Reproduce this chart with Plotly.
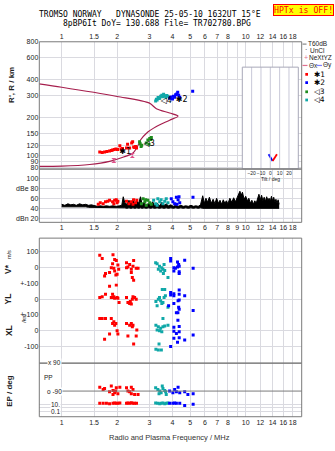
import numpy as np
import plotly.graph_objects as go

W, H = 335, 451
def px(x): return x / W
def py(y): return 1 - y / H

# ---------------- data ----------------
freq_ticks = [1, 1.5, 2, 3, 4, 5, 6, 7, 8, 9, 10, 12, 14, 16, 18]
top_labels = ["1", "1.5", "2", "3", "4", "5", "6", "7", "8", "", "10", "12", "14", "16", "18"]
mid_labels = ["1", "1.5", "2", "3", "4", "5", "6", "7", "8", "9", "10", "12", "14", "16", "18"]
height_ticks = [80, 90, 100, 120, 150, 200, 300, 400, 600, 800]

# model virtual-height curve (R', R)
curve_f = [0.75, 1.0, 2.0, 3.0, 3.27, 3.86, 4.29, 3.86, 3.27, 2.88, 2.68, 2.58, 2.44, 2.15, 1.82, 1.42, 1.0, 0.75]
curve_h = [371, 349, 295, 261, 236, 218, 206, 191, 170, 150, 133, 118, 105, 97, 90, 85, 82.4, 82]

# echoes (height panel)
red_f = [1.61, 1.66, 1.71, 1.76, 1.82, 1.86, 1.89, 1.93, 1.97, 2.01, 2.07, 2.10, 2.14, 2.25, 2.28, 2.34, 2.40, 2.43, 2.46, 2.49, 2.52, 2.55]
red_h = [107, 106, 107, 108, 109, 110, 111, 112, 113, 112, 120, 113, 114, 115, 123, 115, 126, 129, 117, 116, 118, 115]
green_f = [2.65, 2.67, 2.70, 2.72, 2.88, 2.94, 2.98, 3.01, 3.05, 3.07]
green_h = [129, 124, 118, 121, 126, 133, 123, 137, 134, 139]
teal_f = [3.24, 3.27, 3.30, 3.34, 3.38, 3.41, 3.45, 3.50, 3.54, 3.58, 3.63, 3.68, 3.72, 3.77]
teal_h = [272, 280, 276, 290, 284, 286, 296, 302, 293, 307, 298, 291, 300, 296]
blue_f = [3.86, 3.92, 4.00, 4.05, 4.11, 4.16, 4.22, 4.27, 4.32, 4.38, 5.15]
blue_h = [286, 292, 282, 296, 291, 305, 309, 318, 302, 291, 325]
pink_f = [1.92, 2.42]
pink_h = [91.4, 100]
lab_f = [2.21, 2.99, 3.70, 4.49]
lab_h = [106, 123, 271, 279]
lab_t = ["✱1", "◁3", "◁4", "✱2"]

# tilt inset
tilt_x_deg = [-1.8, 2.5]
tilt_x_h = [102, 90]
tilt_y_deg = [2.5, 7.1]
tilt_y_h = [90, 102]

# noise (dB panel)
noise_f = [1.00, 1.04, 1.08, 1.12, 1.16, 1.20, 1.25, 1.30, 1.35, 1.40, 1.45, 1.50, 1.56, 1.62, 1.68, 1.75,
           1.82, 1.90, 1.98, 2.06, 2.12, 2.16, 2.20, 2.26, 2.32, 2.38, 2.44, 2.50, 2.56, 2.62, 2.68, 2.74,
           2.80, 2.88, 2.96, 3.04, 3.12, 3.20, 3.30, 3.40, 3.50, 3.60, 3.70, 3.80, 3.92, 4.04, 4.16, 4.30,
           4.44, 4.58, 4.72, 4.88, 5.04, 5.20, 5.36, 5.52, 5.68, 5.84, 5.96, 6.08, 6.20, 6.35, 6.50, 6.65,
           6.80, 6.95, 7.10, 7.25, 7.40, 7.55, 7.70, 7.85, 8.00, 8.20, 8.40, 8.60, 8.80, 9.00, 9.15, 9.30,
           9.45, 9.60, 9.80, 10.0, 10.2, 10.4, 10.6, 10.8, 11.0, 11.2, 11.4, 11.6, 11.8, 12.0, 12.2, 12.4,
           12.6, 12.8, 13.0, 13.2, 13.4, 13.6, 13.8, 14.0, 14.2, 14.4, 14.6, 14.8, 15.0, 15.2]
noise_hi = [48, 46, 49, 47, 48, 46, 49, 47, 48, 46, 47, 45, 44, 45, 44, 45,
            44, 45, 44, 45, 46, 63, 52, 48, 56, 50, 58, 48, 55, 50, 63, 47,
            52, 46, 50, 46, 53, 46, 50, 45, 52, 46, 49, 45, 47, 44, 46, 44,
            46, 44, 45, 44, 46, 44, 45, 44, 47, 65, 50, 60, 52, 62, 50, 58,
            49, 60, 50, 56, 48, 57, 50, 55, 49, 60, 52, 61, 53, 62, 70, 74,
            66, 72, 58, 64, 55, 60, 50, 56, 48, 55, 50, 62, 68, 57, 66, 55,
            62, 54, 63, 56, 60, 54, 64, 55, 62, 52, 58, 50, 57, 48]
noise_lo = [43, 43, 44, 43, 43, 44, 43, 43, 43, 42, 42, 42, 41, 41, 41, 41,
            41, 41, 41, 41, 41, 41, 41, 40, 41, 40, 41, 40, 41, 40, 41, 40,
            41, 40, 41, 40, 41, 40, 41, 40, 41, 40, 41, 40, 41, 40, 41, 40,
            41, 40, 41, 40, 41, 40, 41, 40, 41, 40, 40, 40, 39, 40, 39, 40,
            39, 40, 39, 40, 39, 40, 39, 40, 39, 40, 39, 40, 39, 40, 39, 40,
            39, 40, 39, 40, 39, 40, 39, 40, 39, 40, 39, 40, 39, 40, 39, 40,
            39, 40, 39, 40, 39, 40, 39, 40, 39, 40, 39, 40, 39, 40]
db_red_f = [1.58, 1.62, 1.68, 1.73, 1.78, 1.82, 1.89, 1.94, 1.98, 2.02, 1.92, 2.00, 2.25, 2.32, 2.39, 2.46, 2.52, 2.56, 2.44]
db_red_v = [48, 51, 49, 53, 54, 56, 53, 56, 57, 54, 49, 51, 54, 49, 53, 57, 51, 56, 48]
db_green_f = [2.77, 2.83, 2.88, 2.94, 3.01, 3.07, 2.71, 2.86]
db_green_v = [59, 53, 46, 56, 51, 48, 49, 57]
db_teal_f = [3.16, 3.24, 3.33, 3.41, 3.47, 3.55, 3.63, 3.70, 3.78, 3.30]
db_teal_v = [56, 49, 59, 53, 57, 49, 54, 59, 51, 46]
db_blue_f = [3.94, 4.02, 4.11, 4.20, 4.29, 4.34, 4.23, 5.17, 4.38]
db_blue_v = [59, 53, 49, 62, 57, 63, 48, 62, 51]

# velocity panel (V*, YL, XL)
vs_red_f = [1.61, 1.66, 1.71, 1.73, 1.82, 1.86, 1.89, 1.90, 1.92, 1.94, 1.94, 1.97, 1.98, 2.00, 2.02, 2.04,
            2.25, 2.25, 2.29, 2.34, 2.39, 2.39, 2.42, 2.44, 2.46, 2.46, 2.54, 2.60]
vs_red_v = [79, 58, -52, -37, -31, 0, 25, 83, -4, 52, -21, -46, 46, -42, 17, -10,
            31, 0, 4, 21, -10, -31, -62, 10, 46, -79, -4, -4]
yl_red_f = [1.61, 1.66, 1.73, 1.82, 1.86, 1.89, 1.90, 1.92, 1.94, 1.98, 2.00, 2.02, 2.05,
            2.25, 2.29, 2.34, 2.36, 2.39, 2.42, 2.44, 2.49, 2.54]
yl_red_v = [10, 15, 31, 83, 10, 31, 10, 15, 6, 90, 10, 6, -21, 10, -21, -27, -15, -31, 0, 15, 10, 0]
xl_red_f = [1.61, 1.66, 1.73, 1.71, 1.82, 1.86, 1.89, 1.92, 1.94, 1.97, 2.00, 2.02,
            2.25, 2.29, 2.34, 2.39, 2.42, 2.44, 2.46, 2.54, 2.56]
xl_red_v = [77, 77, 77, -54, -21, 77, 46, 56, 35, 46, 0, -21, 46, -33, 35, 46, 25, 35, -83, -33, 4]
vs_teal_f = [3.24, 3.30, 3.35, 3.40, 3.45, 3.50, 3.55, 3.57, 3.60, 3.63, 3.78]
vs_teal_v = [31, 25, -10, 10, -21, 0, -10, -37, 21, -17, -62]
yl_teal_f = [3.25, 3.30, 3.35, 3.40, 3.45, 3.50, 3.52, 3.55, 3.60, 3.63, 3.66, 3.78]
yl_teal_v = [-15, -42, 0, 10, -10, -27, 62, -21, 10, 62, 21, -52]
xl_teal_f = [3.25, 3.30, 3.35, 3.40, 3.45, 3.50, 3.55, 3.55, 3.25, 3.38, 3.35, 3.48, 3.63, 3.78]
xl_teal_v = [35, 4, 25, 0, 15, -6, 25, 77, -117, -83, -121, -121, 29, 35]
vs_blue_f = [3.91, 3.91, 4.07, 4.07, 4.15, 4.26, 4.32, 4.35, 4.35, 4.35, 4.26, 4.66, 5.18]
vs_blue_v = [58, 42, 0, -21, -4, 37, 21, 10, -25, -37, 4, 48, -4]
yl_blue_f = [3.91, 3.91, 4.07, 4.07, 4.35, 4.35, 4.66, 4.07, 4.29, 4.35, 4.32, 4.35, 4.20, 4.28, 5.18, 3.81]
yl_blue_v = [42, 27, 35, 21, 58, 31, 21, -27, -10, -6, -52, -65, -87, -87, -73, -42]
xl_blue_f = [4.28, 4.07, 4.07, 4.20, 4.35, 4.35, 4.07, 4.35, 4.26, 4.66, 5.18, 3.91]
xl_blue_v = [66, 21, -4, -17, -6, 27, -48, -44, -73, -58, -27, -100]

# EP panel (angle and error)
ea_red_f = [1.61, 1.68, 1.71, 1.82, 1.86, 1.90, 1.94, 1.98, 2.02, 2.07, 1.90, 1.96, 2.25, 2.29, 2.34, 2.39, 2.44, 2.49, 2.39, 2.60]
ea_red_v = [-65, -80, -74, -94, -58, -86, -101, -69, -107, -65, -112, -90, -69, -90, -94, -65, -80, -112, -107, -112]
ea_teal_f = [3.24, 3.33, 3.41, 3.47, 3.55, 3.63, 3.70, 3.38, 3.52, 3.67]
ea_teal_v = [-69, -80, -90, -101, -74, -86, -112, -107, -58, -94]
ea_blue_f = [3.86, 4.02, 4.11, 4.20, 4.29, 4.38, 4.66, 4.85, 5.18]
ea_blue_v = [-90, -101, -80, -94, -65, -101, -94, -112, -107]
ee_red_f = [1.61, 1.68, 1.75, 1.82, 1.90, 1.94, 1.98, 2.02, 2.07, 2.25, 2.29, 2.34, 2.39, 2.44, 2.49, 2.55]
ee_red_v = [19, 19, 19, 15, 19, 24, 19, 19, 24, 19, 24, 19, 29, 19, 19, 19]
ee_teal_f = [3.24, 3.33, 3.41, 3.47, 3.55, 3.63, 3.70, 3.78]
ee_teal_v = [24, 19, 15, 19, 24, 15, 19, 24]
ee_blue_f = [3.86, 4.02, 4.11, 4.20, 4.38, 4.66, 5.18]
ee_blue_v = [19, 19, 24, 19, 19, 5, 10]

# ---------------- styling ----------------
RED, BLUE, GREEN, TEAL = "#FF0000", "#0000FF", "#1E8C1E", "#10A8A8"
CURVE = "#A61E4D"
PINK = "#E0508A"
GRID = "#DADAE0"
FRAME = "#7A7A7A"
SANS = "Liberation Sans, Arial, sans-serif"
MONO = "DejaVu Sans Mono, monospace"
TF = dict(family=SANS, size=7, color="#222222")

fig = go.Figure()

def add(x, y, xa, ya, **kw):
    fig.add_trace(go.Scatter(x=x, y=y, xaxis=xa, yaxis=ya, showlegend=False,
                             hoverinfo="skip", **kw))

def pts(x, y, xa, ya, color, size=3):
    add(x, y, xa, ya, mode="markers",
        marker=dict(symbol="square", size=size, color=color, line=dict(width=0)))

# height panel
add(curve_f, curve_h, "x", "y", mode="lines", line=dict(color=CURVE, width=1.2, shape="spline", smoothing=0.8))
pts(red_f, red_h, "x", "y", RED)
pts(green_f, green_h, "x", "y", GREEN)
pts(teal_f, teal_h, "x", "y", TEAL)
pts(blue_f, blue_h, "x", "y", BLUE)
add(pink_f, pink_h, "x", "y", mode="markers",
    marker=dict(symbol="hourglass", size=5, color=PINK, line=dict(width=0)))
add(lab_f, lab_h, "x", "y", mode="text", text=lab_t,
    textfont=dict(family="DejaVu Sans", size=8, color="black"))

# tilt inset
add(tilt_x_deg, tilt_x_h, "x8", "y8", mode="lines", line=dict(color=BLUE, width=1.8))
add(tilt_y_deg, tilt_y_h, "x8", "y8", mode="lines", line=dict(color=RED, width=1.8))

# dB panel
add(noise_f, noise_lo, "x2", "y2", mode="lines", line=dict(color="black", width=1))
add(noise_f, noise_hi, "x2", "y2", mode="lines", line=dict(color="black", width=1),
    fill="tonexty", fillcolor="black")
pts(db_red_f, db_red_v, "x2", "y2", RED)
pts(db_green_f, db_green_v, "x2", "y2", GREEN)
pts(db_teal_f, db_teal_v, "x2", "y2", TEAL)
pts(db_blue_f, db_blue_v, "x2", "y2", BLUE)

# velocity panel
pts(vs_red_f, vs_red_v, "x3", "y3", RED)
pts(vs_teal_f, vs_teal_v, "x3", "y3", TEAL)
pts(vs_blue_f, vs_blue_v, "x3", "y3", BLUE)
pts(yl_red_f, yl_red_v, "x4", "y4", RED)
pts(yl_teal_f, yl_teal_v, "x4", "y4", TEAL)
pts(yl_blue_f, yl_blue_v, "x4", "y4", BLUE)
pts(xl_red_f, xl_red_v, "x5", "y5", RED)
pts(xl_teal_f, xl_teal_v, "x5", "y5", TEAL)
pts(xl_blue_f, xl_blue_v, "x5", "y5", BLUE)

# EP panel
pts(ea_red_f, ea_red_v, "x6", "y6", RED)
pts(ea_teal_f, ea_teal_v, "x6", "y6", TEAL)
pts(ea_blue_f, ea_blue_v, "x6", "y6", BLUE)
pts(ee_red_f, ee_red_v, "x7", "y7", RED)
pts(ee_teal_f, ee_teal_v, "x7", "y7", TEAL)
pts(ee_blue_f, ee_blue_v, "x7", "y7", BLUE)

# ---------------- axes ----------------
XR = [np.log10(0.7555), np.log10(20.15)]
XD = [px(39.3), px(301.7)]
def xax(anchor, labels=None, side="bottom"):
    d = dict(type="log", range=XR, domain=XD, anchor=anchor, tickvals=freq_ticks,
             showgrid=True, gridcolor=GRID, gridwidth=1, zeroline=False, showline=False,
             ticks="", tickfont=TF, side=side, tickangle=0)
    if labels is None:
        d["showticklabels"] = False
    else:
        d["ticktext"] = labels
    return d

def yax(anchor, dom, rng, tv=None, tt=None, typ="linear", grid=True, labels=True):
    d = dict(type=typ, range=rng, domain=dom, anchor=anchor, showgrid=grid, gridcolor=GRID,
             zeroline=False, showline=False, ticks="", tickfont=TF)
    if tv is not None:
        d["tickvals"] = tv
        d["ticktext"] = tt if tt is not None else [str(v) for v in tv]
    d["showticklabels"] = labels
    return d

layout = dict(
    width=W, height=H, margin=dict(l=0, r=0, t=0, b=0),
    paper_bgcolor="white", plot_bgcolor="white", showlegend=False,
    xaxis=xax("y", top_labels, side="top"),
    xaxis2=xax("y2", mid_labels),
    xaxis3=xax("y3"), xaxis4=xax("y4"), xaxis5=xax("y5"), xaxis6=xax("y6"),
    xaxis7=xax("y7", top_labels),
    yaxis=yax("x", [py(168.3), py(39.3)], [np.log10(78.2), np.log10(802)], height_ticks, typ="log"),
    yaxis2=yax("x2", [py(222.3), py(168.3)], [12.2, 118], [20, 40, 60, 80, 100],
               ["dBn 20", "40", "60", "dBe 80", "100"]),
    yaxis3=yax("x3", [py(284.3), py(238.3)], [-100, 187.5], [100, 0, -100], ["100", "0", "+-100"]),
    yaxis4=yax("x4", [py(316), py(284.3)], [-100, 100], [0, -100], ["0", "+-100"]),
    yaxis5=yax("x5", [py(365), py(316)], [-204, 100], [0, -100], ["0", "-100"]),
    yaxis6=yax("x6", [py(400), py(365)], [-132.6, 90], grid=False, labels=False),
    yaxis7=yax("x7", [py(419.3), py(400)], [-2.45, 2.84], [10, 1, 0.1], typ="log", labels=False),
    xaxis8=dict(domain=[px(242.3), px(298.3)], range=[-30, 30], anchor="y8",
                tickvals=[-20, -10, 0, 10, 20], ticks="", showgrid=False, zeroline=False,
                showline=False, tickangle=0, ticklabelstandoff=0,
                tickfont=dict(family=SANS, size=5, color="#222")),
    yaxis8=dict(domain=[py(168), py(65)], type="log", range=[np.log10(78.2), np.log10(500)],
                anchor="x8", showgrid=False, zeroline=False, showline=False, showticklabels=False),
)
fig.update_layout(**layout)

# ---------------- shapes ----------------
shapes = []
# inset background + grid
shapes.append(dict(type="rect", xref="paper", yref="paper", x0=px(242.3), x1=px(298.3),
                   y0=py(168), y1=py(65), fillcolor="white", line=dict(width=0), layer="between"))
for t in [-20, -10, 0, 10, 20]:
    shapes.append(dict(type="line", xref="x8", yref="paper", x0=t, x1=t, y0=py(168), y1=py(65),
                       line=dict(color="#C8C8D8", width=1), layer="above"))
for hv in [90, 100, 120, 150, 200, 300, 400]:
    shapes.append(dict(type="line", xref="paper", yref="y", x0=px(242.3), x1=px(298.3),
                       y0=np.log10(hv), y1=np.log10(hv), line=dict(color=GRID, width=1), layer="above"))
shapes.append(dict(type="rect", xref="paper", yref="paper", x0=px(242.3), x1=px(298.3),
                   y0=py(168), y1=py(65), line=dict(color="#A8A8B8", width=1), layer="above"))
# dBn 20 line
shapes.append(dict(type="line", xref="paper", yref="y2", x0=XD[0], x1=XD[1], y0=20, y1=20,
                   line=dict(color="#A8A8E8", width=1), layer="between"))
# EP -90 line
shapes.append(dict(type="line", xref="paper", yref="y6", x0=px(61.7), x1=XD[1], y0=-90, y1=-90,
                   line=dict(color=FRAME, width=1), layer="above"))
# panel frames
for (t, b) in [(39.3, 168.3), (168.3, 222.3), (238.3, 365), (365, 419.3)]:
    shapes.append(dict(type="rect", xref="paper", yref="paper", x0=XD[0], x1=XD[1],
                       y0=py(b), y1=py(t), line=dict(color=FRAME, width=1), layer="above"))
# legend glyphs
shapes.append(dict(type="line", xref="paper", yref="paper", x0=px(302.5), x1=px(306.5),
                   y0=py(41.7), y1=py(41.7), line=dict(color="#A0A0A0", width=1.5)))
shapes.append(dict(type="line", xref="paper", yref="paper", x0=px(302.5), x1=px(307.5),
                   y0=py(63.3), y1=py(63.3), line=dict(color="#E07090", width=1.2)))
shapes.append(dict(type="line", xref="paper", yref="paper", x0=px(317), x1=px(322),
                   y0=py(63.3), y1=py(63.3), line=dict(color="#8080FF", width=1.2)))
for yy, c in [(72.3, RED), (80.7, BLUE), (90, GREEN), (98.3, TEAL)]:
    shapes.append(dict(type="rect", xref="paper", yref="paper", x0=px(305.3), x1=px(308),
                       y0=py(yy + 1.4), y1=py(yy - 1.4), fillcolor=c, line=dict(width=0)))
fig.update_layout(shapes=shapes)

# ---------------- annotations ----------------
ann = []
def txt(x, y, s, size=7, color="#222", family=SANS, xanchor="center", yanchor="middle",
        angle=0, bold=False, bg=None, **kw):
    s2 = f"<b>{s}</b>" if bold else s
    d = dict(xref="paper", yref="paper", x=px(x), y=py(y), text=s2, showarrow=False,
             font=dict(family=family, size=size, color=color), xanchor=xanchor, yanchor=yanchor,
             textangle=angle, borderpad=0)
    if bg:
        d["bgcolor"] = bg
    d.update(kw)
    ann.append(d)

NB = "\u00a0"
txt(150, 11.5, f"TROMSO{NB}NORWAY{NB*3}DYNASONDE{NB}25-05-10{NB}1632UT{NB}15°E", size=8,
    family=MONO, color="black")
txt(156.5, 20.5, f"8pBP6It{NB}DoY={NB}130.688{NB}File={NB}TR702780.BPG", size=8,
    family=MONO, color="black")
txt(303, 7.5, f"HPTx{NB}is{NB}OFF!", size=8.2, family=MONO, color="#FF0000",
    bg="#FFFF00", bordercolor="#FF0000", borderwidth=1)

txt(12, 83, "R', R / km", size=8, angle=-90, bold=True, color="#222")
txt(8.5, 270, "V*", size=8.5, angle=-90, bold=True, color="#222")
txt(8.5, 255, "m/s", size=5.5, angle=-90, color="#222")
txt(8.5, 300, "YL", size=8.5, angle=-90, bold=True, color="#222")
txt(24, 320, "/km", size=5.5, angle=-90, color="#222")
txt(8.5, 332, "XL", size=8.5, angle=-90, bold=True, color="#222")
txt(10, 393, "EP / deg", size=8, angle=-90, bold=True, color="#222")

txt(46.7, 364.5, "x 90", size=6.5, xanchor="left", bg="white")
txt(42.7, 380, "PP", size=6.5, xanchor="left", bg="white")
txt(46, 393.5, "o -90", size=6.5, xanchor="left", bg="white")
txt(50, 406.7, "10.", size=6.5, xanchor="left", bg="white")
txt(50, 414.3, "0.1", size=6.5, xanchor="left", bg="white")

txt(270, 178, "Tilt / deg", size=5)
txt(169, 440, "Radio and Plasma Frequency / MHz", size=7.5, color="#333")

# legend text
txt(307, 41.5, "T60dB", size=6.5, xanchor="left")
txt(304, 47.2, "·", size=7, xanchor="left", color="#222")
txt(309, 48, "UnCl", size=6.5, xanchor="left")
txt(302.5, 55, "+", size=7, xanchor="left", color="#E07090")
txt(307.5, 55, "NeXtYZ", size=6.5, xanchor="left")
txt(307.8, 63.3, "Θx", size=6.5, xanchor="left")
txt(322.3, 63.3, "Θy", size=6.5, xanchor="left")
txt(312.5, 72.3, "✱1", size=7.5, xanchor="left", family="DejaVu Sans", color="black")
txt(312.5, 80.7, "✱2", size=7.5, xanchor="left", family="DejaVu Sans", color="black")
txt(312.5, 90, "◁3", size=7.5, xanchor="left", family="DejaVu Sans", color="black")
txt(312.5, 98.3, "◁4", size=7.5, xanchor="left", family="DejaVu Sans", color="black")

fig.update_layout(annotations=ann)
fig.write_html("out.html")
